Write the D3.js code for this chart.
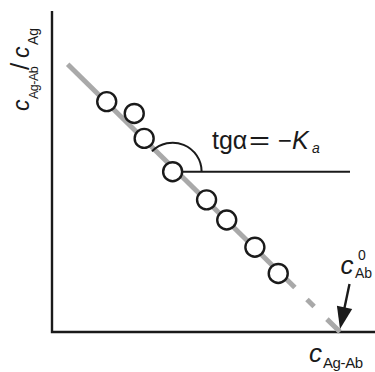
<!DOCTYPE html>
<html><head><meta charset="utf-8">
<script src="https://cdn.jsdelivr.net/npm/d3@7"></script>
<style>
html,body{margin:0;padding:0;background:#fff;}
svg{display:block;font-family:"Liberation Sans",Arial,Helvetica,sans-serif;}
</style></head>
<body>
<svg id="c" width="375" height="372"></svg>
<script>
// ---- data (arbitrary units) ----
const pointX = [1.71, 2.57, 2.88, 3.77, 4.83, 5.46, 6.34, 7.07];
const pointY = [7.20, 6.83, 6.05, 5.01, 4.13, 3.50, 2.65, 1.83];
const fitX = [0.49, 7.59];          // solid part of regression line
const fitY = [8.37, 1.39];
const extrapX = [7.59, 9.0];        // dashed extrapolation to x-intercept
const extrapY = [1.39, 0];
const interceptX = 9.0;             // c0_Ab
const angleVertexIndex = 3;         // point where angle is marked
const axisMax = [10, 10];

const svg = d3.select("#c");
const x = d3.scaleLinear().domain([0, axisMax[0]]).range([52, 372]);
const y = d3.scaleLinear().domain([0, axisMax[1]]).range([332, 12]);
const ink = "#1a1a1a";

// axes (no ticks)
svg.append("path").attr("fill","none").attr("stroke",ink).attr("stroke-width",2.4)
  .attr("d", `M${x(0)},${y(axisMax[1])-1}V${y(0)}H${x(axisMax[0])+3}`);

// regression line
const line = d3.line().x(d=>x(d[0])).y(d=>y(d[1]));
svg.append("path").attr("fill","none").attr("stroke","#a9a9a9").attr("stroke-width",5)
  .attr("d", line(d3.zip(fitX, fitY)));
svg.append("path").attr("fill","none").attr("stroke","#a9a9a9").attr("stroke-width",5)
  .attr("stroke-dasharray","0 17 10 18 16")
  .attr("d", line(d3.zip(extrapX, extrapY)));

// angle marker
const vx = x(pointX[angleVertexIndex]), vy = y(pointY[angleVertexIndex]);
svg.append("line").attr("x1",vx).attr("y1",vy).attr("x2",350).attr("y2",vy)
  .attr("stroke",ink).attr("stroke-width",2);
const slopeAng = Math.atan2(y(fitY[0])-y(fitY[1]), x(fitX[0])-x(fitX[1]));
const p = d3.path();
p.arc(vx, vy, 29, slopeAng, 0, false);
svg.append("path").attr("d", p.toString()).attr("fill","none").attr("stroke",ink).attr("stroke-width",2);

// points
svg.selectAll("circle.pt").data(d3.zip(pointX, pointY)).join("circle")
  .attr("class","pt").attr("cx",d=>x(d[0])).attr("cy",d=>y(d[1])).attr("r",9.5)
  .attr("fill","#fff").attr("stroke",ink).attr("stroke-width",2.4);

// arrow to intercept
const tipX = x(interceptX), tipY = y(0) - 3;
const startX = tipX + 9.5, startY = tipY - 45;
const dx = tipX - startX, dy = tipY - startY, L = Math.hypot(dx, dy);
const ux = dx/L, uy = dy/L;
const bx = tipX - ux*22, by = tipY - uy*22;
svg.append("line").attr("x1",startX).attr("y1",startY).attr("x2",bx+ux*2).attr("y2",by+uy*2)
  .attr("stroke",ink).attr("stroke-width",2.4);
svg.append("path").attr("fill",ink)
  .attr("d", `M${tipX},${tipY}L${bx-uy*7.8},${by+ux*7.8}L${bx+uy*7.8},${by-ux*7.8}Z`);

// texts
const t = svg.append("g").attr("fill", ink);
// slope formula
const f = t.append("text").attr("y",148.5).attr("font-size",25);
f.append("tspan").attr("x",212).text("tgα");
f.append("tspan").attr("x",249).attr("textLength",21).attr("lengthAdjust","spacingAndGlyphs").text("=");
f.append("tspan").attr("x",278).attr("textLength",14).attr("lengthAdjust","spacingAndGlyphs").text("−");
f.append("tspan").attr("x",292).attr("font-style","italic").text("K");
f.append("tspan").attr("x",312).attr("y",153).attr("font-size",14).attr("font-style","italic").text("a");

// c0_Ab
t.append("text").attr("x",340.5).attr("y",273.5).attr("font-size",26).attr("font-style","italic").text("c");
t.append("text").attr("x",358).attr("y",260).attr("font-size",14).text("0");
t.append("text").attr("x",355).attr("y",277.5).attr("font-size",14).text("Ab");

// x label
const xl = t.append("text").attr("y",361.5).attr("font-size",26);
xl.append("tspan").attr("x",309).attr("font-style","italic").text("c");
xl.append("tspan").attr("x",323).attr("y",368).attr("font-size",15).attr("letter-spacing",-0.4).text("Ag-Ab");

// y label
const yl = t.append("text").attr("transform","translate(29,111) rotate(-90)").attr("font-size",23);
yl.append("tspan").attr("x",0).attr("y",0).attr("font-style","italic").text("c");
yl.append("tspan").attr("x",12).attr("y",8.5).attr("font-size",12.5).attr("letter-spacing",-0.5).text("Ag-Ab");
yl.append("tspan").attr("x",41).attr("y",0).attr("font-size",26).text("/");
yl.append("tspan").attr("x",53).attr("y",0).attr("font-style","italic").text("c");
yl.append("tspan").attr("x",66).attr("y",8.5).attr("font-size",14).text("Ag");
</script>
</body></html>
